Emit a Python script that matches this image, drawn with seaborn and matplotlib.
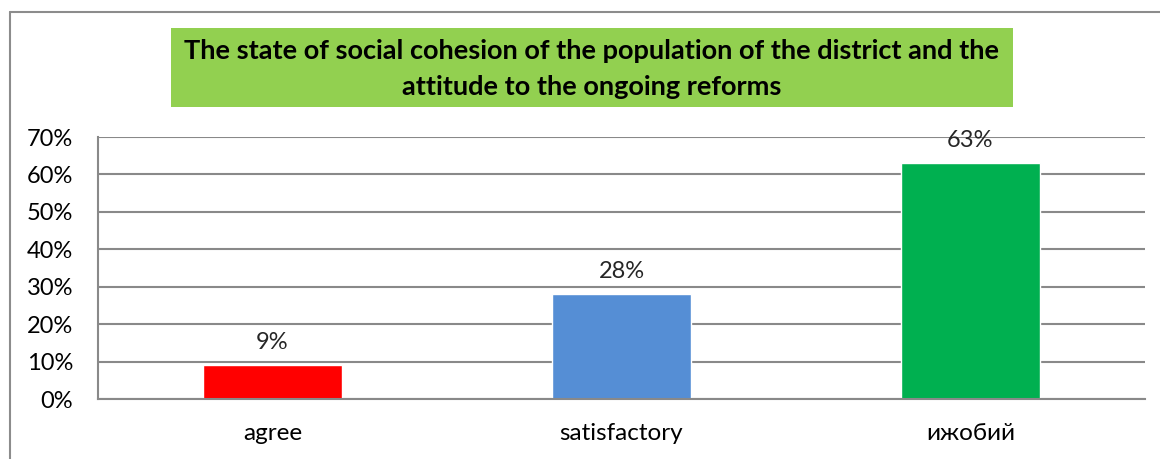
import matplotlib
matplotlib.use("Agg")
import matplotlib.pyplot as plt
import seaborn as sns
import pandas as pd
from matplotlib.lines import Line2D
from matplotlib.patches import Rectangle
from matplotlib.ticker import FixedLocator, PercentFormatter

categories = ["agree", "satisfactory", "ижобий"]
values = [0.09, 0.28, 0.63]
colors = ["#FF0000", "#558ED5", "#00B050"]
title = "The state of social cohesion of the population of the district and the\nattitude to the ongoing reforms"

sns.set_theme(style="white")
plt.rcParams["font.family"] = ["Lato", "DejaVu Sans"]

df = pd.DataFrame({"cat": categories, "val": values})

W, H = 1160, 459
fig = plt.figure(figsize=(W / 100, H / 100), dpi=100)
ax = fig.add_axes([98 / W, 1 - 399 / H, (1145 - 98) / W, (399 - 137) / H])

sns.barplot(data=df, x="cat", y="val", hue="cat", palette=colors,
            width=0.4, legend=False, ax=ax, saturation=1)

ax.set_xlim(-0.5, 2.5)
ax.set_ylim(0, 0.7)
ax.set_yticks([i / 10 for i in range(8)])
ax.yaxis.set_major_formatter(PercentFormatter(1.0, decimals=0))
ax.grid(axis="y", color="#898989", linewidth=1.5)
ax.set_axisbelow(True)
ax.set_xlabel("")
ax.set_ylabel("")

for s in ["top", "right"]:
    ax.spines[s].set_visible(False)
for s in ["left", "bottom"]:
    ax.spines[s].set_color("#898989")
    ax.spines[s].set_linewidth(1.5)

ax.tick_params(axis="y", length=6, width=1.5, color="#898989", labelsize=17, pad=12, labelcolor="black")
ax.tick_params(axis="x", which="major", length=0, labelsize=17.5, pad=17, labelcolor="black")
ax.xaxis.set_minor_locator(FixedLocator([-0.5, 0.5, 1.5, 2.5]))
ax.tick_params(axis="x", which="minor", length=6, width=1.5, color="#898989")

for c in ax.containers:
    ax.bar_label(c, labels=[f"{v*100:.0f}%" for v in c.datavalues], padding=9, fontsize=17)

for t in ax.texts:
    t.set_clip_on(False)

# outer border
fig.add_artist(Line2D([10 / W, 10 / W], [0, 1 - 12 / H], color="#8c8c8c", linewidth=1.5))
fig.add_artist(Line2D([10 / W, 1], [1 - 12 / H, 1 - 12 / H], color="#8c8c8c", linewidth=1.5))

# title box
fig.add_artist(Rectangle((171 / W, 1 - 107 / H), (1013 - 171) / W, (107 - 28) / H,
                         transform=fig.transFigure, facecolor="#92D050", edgecolor="none"))
fig.text(592 / W, 1 - 69 / H, title, ha="center", va="center", fontsize=19.5,
         fontweight="bold", linespacing=1.6, color="black")

fig.savefig("out.png", dpi=100)
